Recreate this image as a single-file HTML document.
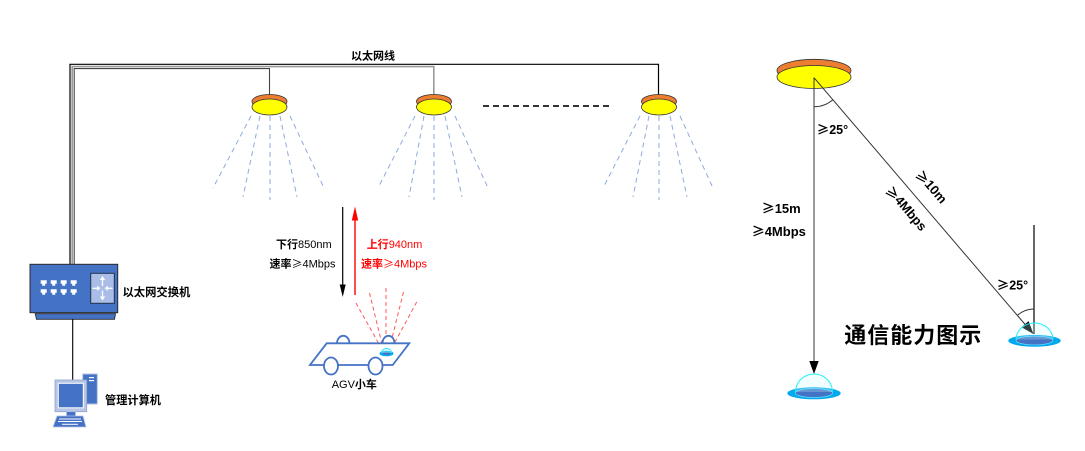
<!DOCTYPE html>
<html>
<head>
<meta charset="utf-8">
<style>
html,body{margin:0;padding:0;background:#fff;}
svg{display:block;}
text{font-family:"Liberation Sans","Noto Sans CJK SC",sans-serif;}
.cj{font-family:"Liberation Sans","Noto Sans CJK SC",sans-serif;font-weight:bold;}
.ge{font-family:"Noto Sans CJK SC",sans-serif;}
</style>
</head>
<body>
<svg width="1085" height="451" viewBox="0 0 1085 451" xmlns="http://www.w3.org/2000/svg">
  <!-- Ethernet cables -->
  <path d="M70,264 V64.3 H658.5 V95" fill="none" stroke="#000" stroke-width="1.2"/>
  <path d="M72.2,264 V66.6 H433.8 V95" fill="none" stroke="#9a9a9a" stroke-width="1.6"/>
  <path d="M74.2,264 V68.6 H269.5 V95" fill="none" stroke="#444" stroke-width="1.1"/>
  <text x="373" y="59.5" font-size="11" text-anchor="middle" class="cj">以太网线</text>

  <!-- dashed between lamps -->
  <line x1="483" y1="106" x2="613" y2="106" stroke="#333" stroke-width="2" stroke-dasharray="6,4"/>

  <!-- rays -->
  <g stroke="#8faadc" stroke-width="1" stroke-dasharray="5,4" fill="none">
    <line x1="251" y1="116" x2="213" y2="188"/>
    <line x1="260" y1="116" x2="243" y2="197"/>
    <line x1="270" y1="116" x2="270" y2="200"/>
    <line x1="280" y1="116" x2="297" y2="197"/>
    <line x1="290" y1="116" x2="324" y2="188"/>

    <line x1="415" y1="116" x2="378" y2="188"/>
    <line x1="424" y1="116" x2="409" y2="197"/>
    <line x1="434" y1="116" x2="434" y2="200"/>
    <line x1="445" y1="116" x2="462" y2="197"/>
    <line x1="455" y1="116" x2="488" y2="188"/>

    <line x1="640" y1="116" x2="603" y2="188"/>
    <line x1="649" y1="116" x2="633" y2="197"/>
    <line x1="659" y1="116" x2="659" y2="200"/>
    <line x1="670" y1="116" x2="687" y2="197"/>
    <line x1="680" y1="116" x2="713" y2="188"/>
  </g>

  <!-- small lamps -->
  <g stroke="#333" stroke-width="0.8">
    <ellipse cx="269.5" cy="101.5" rx="17.5" ry="7" fill="#ed7d31"/>
    <ellipse cx="269.5" cy="107" rx="17.5" ry="8" fill="#ffff00"/>
    <ellipse cx="434" cy="101.5" rx="17.5" ry="7" fill="#ed7d31"/>
    <ellipse cx="434" cy="107" rx="17.5" ry="8" fill="#ffff00"/>
    <ellipse cx="659" cy="101.5" rx="17.5" ry="7" fill="#ed7d31"/>
    <ellipse cx="659" cy="107" rx="17.5" ry="8" fill="#ffff00"/>
  </g>

  <!-- Switch -->
  <rect x="30" y="264.3" width="87.7" height="48.4" fill="#4472c4" stroke="#2b2b2b" stroke-width="1"/>
  <path d="M35.2,313.7 H115.5 L114.5,319.3 H36.5 Z" fill="#4472c4" stroke="#2b2b2b" stroke-width="0.9"/>
  <g fill="#fff">
    <path d="M40.7,280.3 h6 v3.5 h-1.5 v2 h-3 v-2 h-1.5z"/>
    <path d="M50.7,280.3 h6 v3.5 h-1.5 v2 h-3 v-2 h-1.5z"/>
    <path d="M60.7,280.3 h6 v3.5 h-1.5 v2 h-3 v-2 h-1.5z"/>
    <path d="M70.7,280.3 h6 v3.5 h-1.5 v2 h-3 v-2 h-1.5z"/>
    <path d="M40.7,289.3 h6 v3.5 h-1.5 v2 h-3 v-2 h-1.5z"/>
    <path d="M50.7,289.3 h6 v3.5 h-1.5 v2 h-3 v-2 h-1.5z"/>
    <path d="M60.7,289.3 h6 v3.5 h-1.5 v2 h-3 v-2 h-1.5z"/>
    <path d="M70.7,289.3 h6 v3.5 h-1.5 v2 h-3 v-2 h-1.5z"/>
  </g>
  <rect x="90.7" y="273.3" width="23.6" height="30" fill="#a9bde6" stroke="#25324d" stroke-width="1"/>
  <g stroke="#fff" stroke-width="1.3" fill="#fff">
    <line x1="102.5" y1="286" x2="102.5" y2="279"/>
    <path d="M99.8,280 L102.5,276 L105.2,280Z" stroke="none"/>
    <line x1="102.5" y1="290.5" x2="102.5" y2="297.5"/>
    <path d="M99.8,296.5 L102.5,300.5 L105.2,296.5Z" stroke="none"/>
    <line x1="92.5" y1="288.3" x2="98" y2="288.3"/>
    <path d="M97,285.8 L100.5,288.3 L97,290.8Z" stroke="none"/>
    <line x1="112.5" y1="288.3" x2="107" y2="288.3"/>
    <path d="M108,285.8 L104.5,288.3 L108,290.8Z" stroke="none"/>
  </g>
  <text x="122.5" y="296" font-size="11.3" class="cj">以太网交换机</text>

  <!-- switch to computer -->
  <line x1="72.7" y1="319.3" x2="72.7" y2="380" stroke="#000" stroke-width="1.1"/>

  <!-- Computer -->
  <rect x="82.7" y="374" width="14.6" height="30" fill="#4472c4" stroke="#b4c4e4" stroke-width="1"/>
  <rect x="89" y="377" width="5" height="1.2" fill="#fff"/>
  <rect x="89" y="380" width="5" height="1.2" fill="#fff"/>
  <rect x="55" y="380" width="31.7" height="31.7" fill="#b8c7e6" stroke="#8ea4cc" stroke-width="0.8"/>
  <rect x="58.3" y="383.3" width="25" height="24.5" fill="#4472c4" stroke="#fff" stroke-width="1"/>
  <rect x="66.5" y="411.7" width="9" height="4.5" fill="#4472c4" stroke="#b4c4e4" stroke-width="0.6"/>
  <path d="M57,416 H83 L86,427 H53 Z" fill="#4472c4" stroke="#b4c4e4" stroke-width="0.8"/>
  <g fill="#fff">
    <rect x="59" y="418.5" width="22" height="1"/>
    <rect x="58" y="421" width="24" height="1"/>
    <rect x="62" y="423.8" width="16" height="1"/>
  </g>
  <text x="105" y="404" font-size="11.2" class="cj">管理计算机</text>

  <!-- Down / Up arrows -->
  <line x1="342.7" y1="207" x2="342.7" y2="286" stroke="#000" stroke-width="1.2"/>
  <path d="M339.7,284.5 L345.7,284.5 L342.7,297 Z" fill="#000"/>
  <line x1="355" y1="219" x2="355" y2="295" stroke="#ff0000" stroke-width="1.4"/>
  <path d="M351.8,220.5 L358.2,220.5 L355,206.5 Z" fill="#ff0000"/>

  <text x="276" y="248" font-size="11"><tspan class="cj">下行</tspan><tspan>850nm</tspan></text>
  <text x="269.5" y="267.5" font-size="11"><tspan class="cj">速率</tspan><tspan class="ge">≥</tspan><tspan>4Mbps</tspan></text>
  <text x="366.7" y="248" font-size="11" fill="#ff0000"><tspan class="cj">上行</tspan><tspan>940nm</tspan></text>
  <text x="361" y="267.5" font-size="11" fill="#ff0000"><tspan class="cj">速率</tspan><tspan class="ge">≥</tspan><tspan>4Mbps</tspan></text>

  <!-- red rays from AGV receiver -->
  <g stroke="#ff5a5a" stroke-width="1" stroke-dasharray="4,3" fill="none">
    <line x1="356" y1="303" x2="379" y2="344"/>
    <line x1="369.5" y1="293" x2="382" y2="344"/>
    <line x1="386" y1="288" x2="386" y2="344"/>
    <line x1="403.5" y1="292" x2="390.5" y2="344"/>
    <line x1="416.7" y1="302" x2="394" y2="344"/>
  </g>

  <!-- AGV car -->
  <g stroke="#4472c4" stroke-width="1.8" fill="#fff">
    <path d="M337,343.3 A6.25,7.5 0 0 1 349.5,343.3" />
    <path d="M382.5,343.3 A6,7.5 0 0 1 394.5,343.3" />
    <path d="M326.7,343.3 L409.3,343.3 L392.7,365 L310,365 Z" fill="none"/>
    <ellipse cx="331" cy="366" rx="7" ry="8.5"/>
    <ellipse cx="375.5" cy="366" rx="7" ry="8.5"/>
  </g>
  <ellipse cx="386.5" cy="353.5" rx="7" ry="2.8" fill="#00b0f0"/>
  <ellipse cx="386.5" cy="353.3" rx="4.2" ry="1.6" fill="#4472c4"/>
  <path d="M381.5,353 A5,4.5 0 0 1 391.5,353" fill="rgba(150,255,255,0.4)" stroke="#22e0ff" stroke-width="0.9"/>
  <text x="331.7" y="388" font-size="11"><tspan>AGV</tspan><tspan class="cj">小车</tspan></text>

  <!-- Right diagram -->
  <g stroke="#333" stroke-width="0.8">
    <ellipse cx="814" cy="70.5" rx="37" ry="11.2" fill="#ed7d31"/>
    <ellipse cx="814" cy="77" rx="37" ry="11.5" fill="#ffff00"/>
  </g>
  <line x1="814" y1="77.7" x2="814" y2="363" stroke="#333" stroke-width="1"/>
  <path d="M809.3,361 L818.7,361 L814,374 Z" fill="#000"/>
  <line x1="814" y1="77.7" x2="1026" y2="325.5" stroke="#333" stroke-width="1"/>
  <path d="M1021.5,327.2 L1028.6,321.1 L1033.5,334 Z" fill="#000"/>
  <line x1="1034" y1="225" x2="1034" y2="334" stroke="#000" stroke-width="1.2"/>
  <path d="M814,106.7 A29,29 0 0 0 832.9,99.7" fill="none" stroke="#333" stroke-width="1"/>
  <path d="M1034,309 A25,25 0 0 0 1017.8,315" fill="none" stroke="#333" stroke-width="1"/>

  <text x="816.7" y="134" font-size="12.5" class="cj"><tspan class="ge">≥</tspan>25°</text>
  <text x="996.7" y="289.5" font-size="12.5" class="cj"><tspan class="ge">≥</tspan>25°</text>
  <text x="761.7" y="213" font-size="13" class="cj"><tspan class="ge">≥</tspan>15m</text>
  <text x="751.7" y="236" font-size="13" class="cj"><tspan class="ge">≥</tspan>4Mbps</text>
  <text x="931.7" y="186.7" font-size="13" class="cj" text-anchor="middle" dominant-baseline="central" transform="rotate(49.5 931.7 186.7)"><tspan class="ge">≥</tspan>10m</text>
  <text x="906.7" y="208.3" font-size="13" class="cj" text-anchor="middle" dominant-baseline="central" transform="rotate(49.5 906.7 208.3)"><tspan class="ge">≥</tspan>4Mbps</text>

  <text x="844.3" y="343" font-size="22" class="cj" letter-spacing="1">通信能力图示</text>

  <!-- receivers -->
  <ellipse cx="814" cy="393.3" rx="26.7" ry="6" fill="#00a8ec"/>
  <ellipse cx="814" cy="393" rx="18.6" ry="4.5" fill="#4472c4" stroke="#5fd8ff" stroke-width="0.8"/>
  <path d="M795.5,392 A18.5,18 0 0 1 832.5,392" fill="rgba(200,255,255,0.25)" stroke="#22f0ff" stroke-width="1"/>

  <ellipse cx="1034.5" cy="340.8" rx="26.2" ry="5.9" fill="#00a8ec"/>
  <ellipse cx="1034.5" cy="340.5" rx="18.4" ry="4.4" fill="#4472c4" stroke="#5fd8ff" stroke-width="0.8"/>
  <path d="M1016,339.5 A18.5,16.5 0 0 1 1053,339.5" fill="rgba(200,255,255,0.25)" stroke="#22f0ff" stroke-width="1"/>
</svg>
</body>
</html>
